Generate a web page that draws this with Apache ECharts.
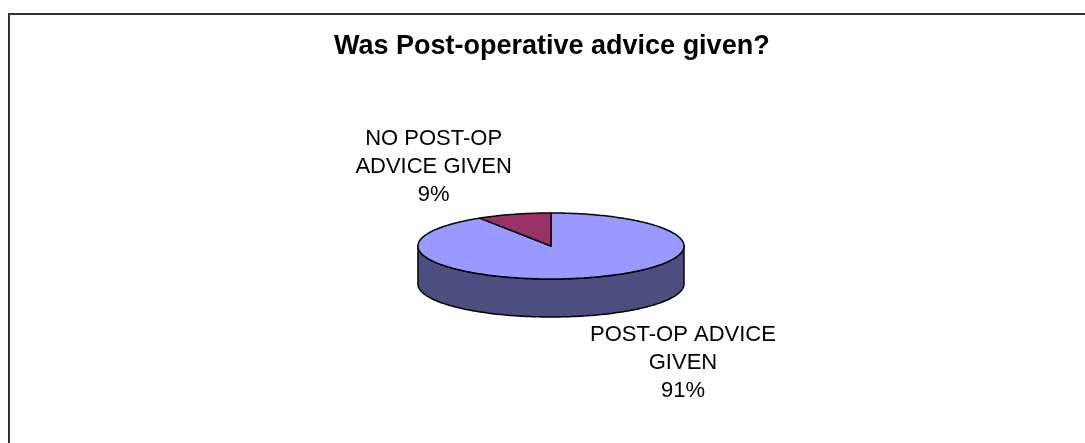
<!DOCTYPE html>
<html>
<head>
<meta charset="utf-8">
<title>Was Post-operative advice given?</title>
<script src="https://cdn.jsdelivr.net/npm/echarts@6/dist/echarts.min.js"></script>
<style>
  html, body { margin: 0; padding: 0; background: #fff; }
  #chart { width: 1085px; height: 443px; }
</style>
</head>
<body>
<div id="chart"></div>
<script>
// Survey answers and their percentage shares
const categories = ['POST-OP ADVICE GIVEN', 'NO POST-OP ADVICE GIVEN'];
const shares = [91, 9];
const topColors = ['#9999FF', '#993366'];
const sideColors = ['#4D4D80', '#4D1A33'];

const FONT = '"Liberation Sans", Arial, sans-serif';
const LABEL_FONT = '22px ' + FONT;
const LABEL_WRAP = 190;

// Ellipse geometry of the tilted pie (relative centre, pixel radii, wall depth)
const PIE = { cxRatio: 0.5078, cyRatio: 0.5553, rx: 133, ry: 33, depth: 38 };

const total = shares.reduce((a, b) => a + b, 0);

// word-wrap a label and report the widest line, so the label box can sit beside the rim
const measureCtx = document.createElement('canvas').getContext('2d');
function wrapLabel(text) {
  measureCtx.font = LABEL_FONT;
  const words = text.split(' ');
  const lines = [];
  let cur = '';
  words.forEach(w => {
    const next = cur ? cur + ' ' + w : w;
    if (cur && measureCtx.measureText(next).width > LABEL_WRAP) {
      lines.push(cur);
      cur = w;
    } else {
      cur = next;
    }
  });
  if (cur) lines.push(cur);
  return lines;
}
function widest(lines) {
  measureCtx.font = LABEL_FONT;
  return Math.max.apply(null, lines.map(l => measureCtx.measureText(l).width));
}

function renderSlice(params, api) {
  const i = params.dataIndex;
  const W = api.getWidth(), H = api.getHeight();
  const cx = W * PIE.cxRatio, cy = H * PIE.cyRatio;
  const rx = PIE.rx, ry = PIE.ry, depth = PIE.depth;

  // slices start at 12 o'clock and run clockwise
  let before = 0;
  for (let k = 0; k < i; k++) before += shares[k];
  const a0 = Math.PI / 2 - (before / total) * 2 * Math.PI;
  const a1 = a0 - (api.value(1) / total) * 2 * Math.PI;

  const pt = (a, dy) => [cx + rx * Math.cos(a), cy - ry * Math.sin(a) + (dy || 0)];
  const arc = (from, to, dy) => {
    const pts = [];
    const n = Math.max(2, Math.ceil(Math.abs(to - from) / (Math.PI / 180)));
    for (let s = 0; s <= n; s++) pts.push(pt(from + (to - from) * s / n, dy));
    return pts;
  };

  const children = [];
  const line = { stroke: '#000', lineWidth: 1.5, lineJoin: 'round' };

  // front walls: parts of the slice whose angle lies in the lower half of the ellipse
  for (let k = -2; k <= 2; k++) {
    const lo = Math.max(a1, -Math.PI + 2 * Math.PI * k);
    const hi = Math.min(a0, 2 * Math.PI * k);
    if (hi - lo > 1e-6) {
      const pts = arc(lo, hi, 0).concat(arc(hi, lo, depth));
      children.push({
        type: 'polygon', shape: { points: pts },
        style: Object.assign({ fill: sideColors[i] }, line)
      });
    }
  }

  // top face
  children.push({
    type: 'polygon', shape: { points: [[cx, cy]].concat(arc(a0, a1, 0)) },
    style: Object.assign({ fill: topColors[i] }, line)
  });

  // data label: box placed just outside the rim at the middle of the slice
  const m = (a0 + a1) / 2;
  const front = Math.sin(m) < 0;
  const rim = pt(m, front ? depth : 0);
  const lines = wrapLabel(categories[i]);
  lines.push(api.value(1) + '%');
  const half = widest(lines) / 2;
  const lx = rim[0] + Math.sign(Math.cos(m)) * (half + 2);
  const ly = rim[1] - Math.sign(Math.sin(m)) * 47;
  children.push({
    type: 'text',
    style: {
      text: lines.join('\n'),
      x: lx, y: ly,
      align: 'center', verticalAlign: 'middle',
      font: LABEL_FONT, lineHeight: 28, fill: '#000'
    }
  });

  return { type: 'group', children: children };
}

const chart = echarts.init(document.getElementById('chart'), null, { renderer: 'canvas' });
chart.setOption({
  backgroundColor: '#fff',
  animation: false,
  title: {
    text: 'Was Post-operative advice given?',
    left: 329,
    top: 28,
    textStyle: { fontFamily: FONT, fontSize: 27, fontWeight: 'bold', color: '#000' }
  },
  graphic: [{
    type: 'rect', silent: true,
    shape: { x: 9, y: 14, width: 1200, height: 600 },
    style: { fill: 'none', stroke: '#333', lineWidth: 2 }
  }],
  series: [{
    type: 'custom',
    coordinateSystem: 'none',
    silent: true,
    renderItem: renderSlice,
    data: categories.map((c, i) => [i, shares[i]])
  }]
});
</script>
</body>
</html>
